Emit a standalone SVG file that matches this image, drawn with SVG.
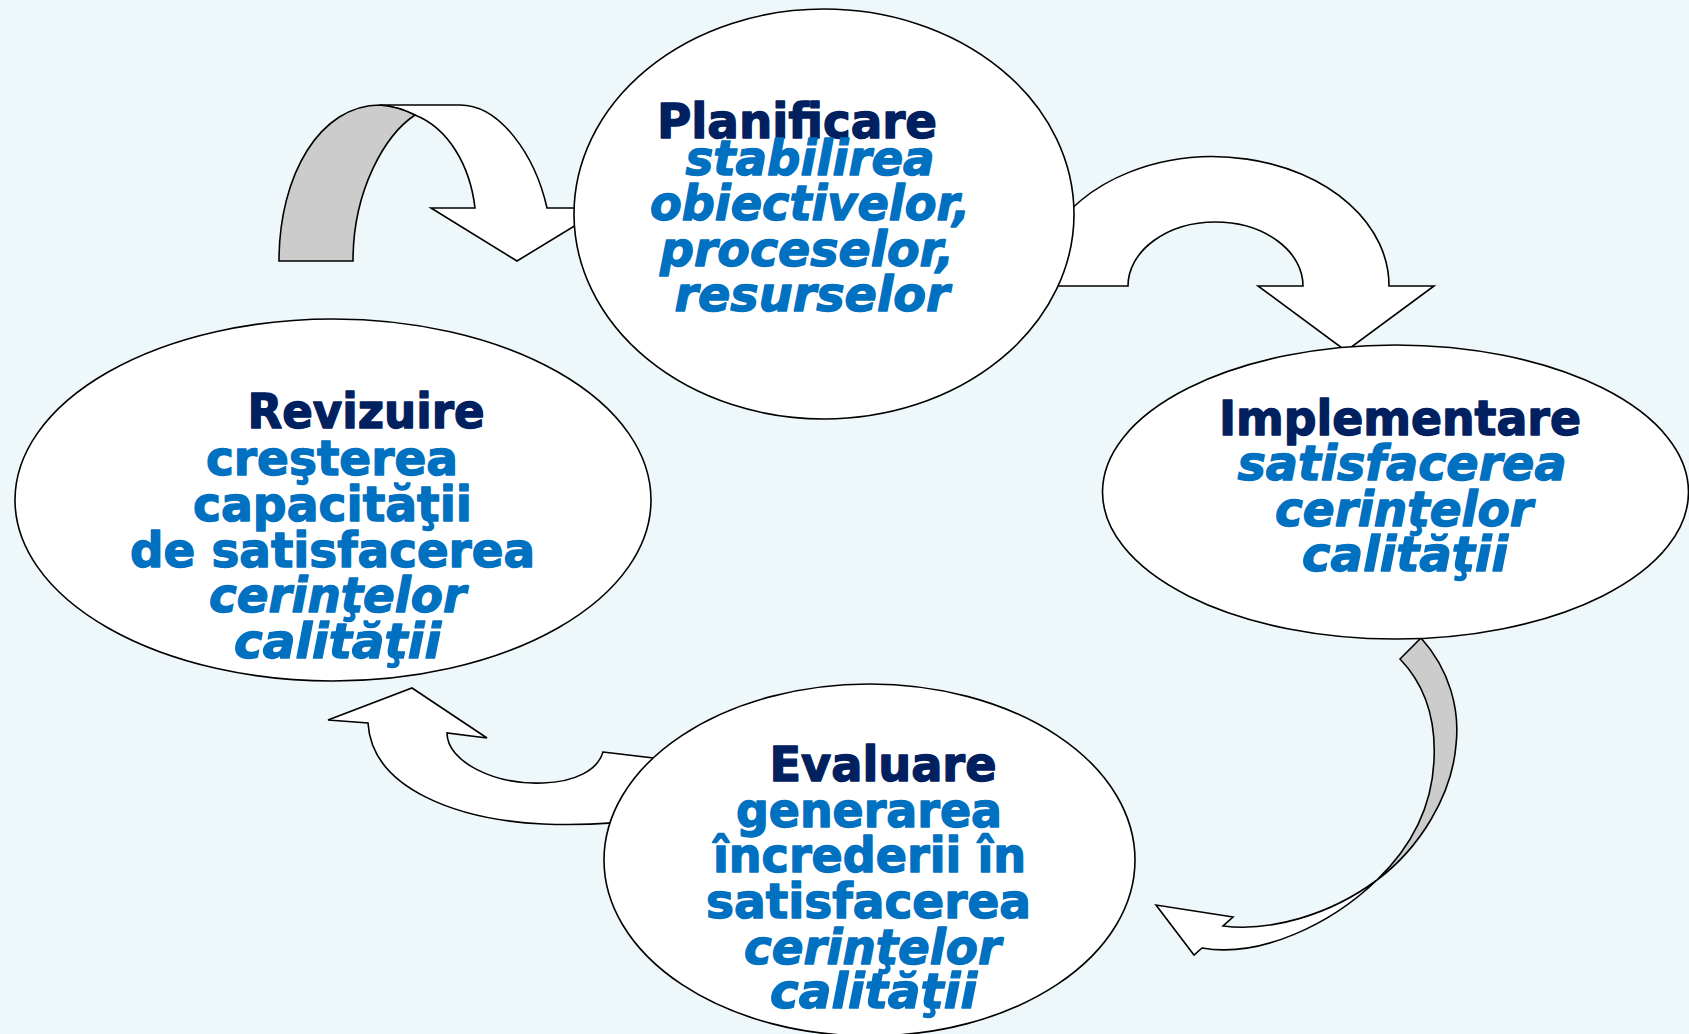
<svg xmlns="http://www.w3.org/2000/svg" width="1689" height="1034" viewBox="0 0 1689 1034">
<style>
.bg{fill:#EEF7FA}
.node{fill:#FFFFFF;stroke:#000;stroke-width:1.6}
.arw{fill:#FFFFFF;stroke:#000;stroke-width:1.6;stroke-linejoin:miter}
.back{fill:#CCCCCC;stroke:#000;stroke-width:1.6}
.t{font-family:"DejaVu Sans","Liberation Sans",sans-serif;font-weight:bold;font-size:48px;text-anchor:middle;fill:#002060;stroke:#002060;stroke-width:1.4;stroke-linejoin:round}
.b{font-family:"DejaVu Sans","Liberation Sans",sans-serif;font-weight:bold;font-size:48px;text-anchor:middle;fill:#0070C0;stroke:#0070C0;stroke-width:1.4;stroke-linejoin:round}
.i{font-style:italic}
</style>
<rect class="bg" x="0" y="0" width="1689" height="1034"/>
<g id="connectors">
  <path class="arw" d="M380,105 L460,105 C500,105 535,155 547,208 L604,208 L517,261 L431,208 L475,208 C470,165 448,128 415,115 C405,110 392,106 380,105 Z"/>
  <path class="back" d="M279,261 C279,175 320,105 380,105 C392,106 405,110 415,115 C385,135 353,190 353,261 Z"/>
  <path class="arw" d="M1045,286 L1128,286 A87.5 64 0 0 1 1303,286 L1258,286 L1346,351 L1434,286 L1389,286 A176 129 0 0 0 1050,237 Z"/>
  <path class="back" d="M1400,659 L1421,638 C1450,670 1460,710 1456,745 C1452,795 1420,848 1377,880 C1408,850 1432,810 1434,760 C1436,720 1425,685 1400,659 Z"/>
  <path class="arw" d="M1377,880 C1330,915 1270,932 1223,926 L1233,917 L1156,905 L1194,955 L1202,948 C1260,958 1330,925 1377,880 Z"/>
  <path class="arw" d="M603,752 L670,760 L670,815 C640,822 590,826 543,824 C460,820 372,790 368,723 L328,720 L412,688 L487,738 L447,733 C447,762 495,785 543,783 C575,782 598,770 603,752 Z"/>
</g>
<g id="planificare">
  <ellipse class="node" cx="824" cy="214" rx="250" ry="205"/>
  <text class="t" x="797" y="138" textLength="280" lengthAdjust="spacingAndGlyphs">Planificare</text>
  <text class="b i" x="810" y="175" textLength="249" lengthAdjust="spacingAndGlyphs">stabilirea</text>
  <text class="b i" x="810" y="220" textLength="320" lengthAdjust="spacingAndGlyphs">obiectivelor,</text>
  <text class="b i" x="807" y="266" textLength="294" lengthAdjust="spacingAndGlyphs">proceselor,</text>
  <text class="b i" x="812" y="311" textLength="275" lengthAdjust="spacingAndGlyphs">resurselor</text>
</g>
<g id="implementare">
  <ellipse class="node" cx="1395.5" cy="492" rx="293" ry="147"/>
  <text class="t" x="1400" y="435" textLength="362" lengthAdjust="spacingAndGlyphs">Implementare</text>
  <text class="b i" x="1402" y="480" textLength="329" lengthAdjust="spacingAndGlyphs">satisfacerea</text>
  <text class="b i" x="1404" y="526" textLength="258" lengthAdjust="spacingAndGlyphs">cerinţelor</text>
  <text class="b i" x="1405" y="571" textLength="206" lengthAdjust="spacingAndGlyphs">calităţii</text>
</g>
<g id="evaluare">
  <ellipse class="node" cx="869.5" cy="860" rx="265.5" ry="176"/>
  <text class="t" x="883" y="781" textLength="227" lengthAdjust="spacingAndGlyphs">Evaluare</text>
  <text class="b" x="869" y="827" textLength="266" lengthAdjust="spacingAndGlyphs">generarea</text>
  <text class="b" x="869.5" y="872" textLength="313" lengthAdjust="spacingAndGlyphs">încrederii în</text>
  <text class="b" x="868.5" y="918" textLength="325" lengthAdjust="spacingAndGlyphs">satisfacerea</text>
  <text class="b i" x="872.5" y="964" textLength="257" lengthAdjust="spacingAndGlyphs">cerinţelor</text>
  <text class="b i" x="873.5" y="1008" textLength="207" lengthAdjust="spacingAndGlyphs">calităţii</text>
</g>
<g id="revizuire">
  <ellipse class="node" cx="333" cy="500" rx="318" ry="181"/>
  <text class="t" x="366" y="428" textLength="237" lengthAdjust="spacingAndGlyphs">Revizuire</text>
  <text class="b" x="332" y="475" textLength="252" lengthAdjust="spacingAndGlyphs">creşterea</text>
  <text class="b" x="332.5" y="521" textLength="279" lengthAdjust="spacingAndGlyphs">capacităţii</text>
  <text class="b" x="332.5" y="567" textLength="405" lengthAdjust="spacingAndGlyphs">de satisfacerea</text>
  <text class="b i" x="337.5" y="612" textLength="257" lengthAdjust="spacingAndGlyphs">cerinţelor</text>
  <text class="b i" x="337.5" y="658" textLength="207" lengthAdjust="spacingAndGlyphs">calităţii</text>
</g>
</svg>
